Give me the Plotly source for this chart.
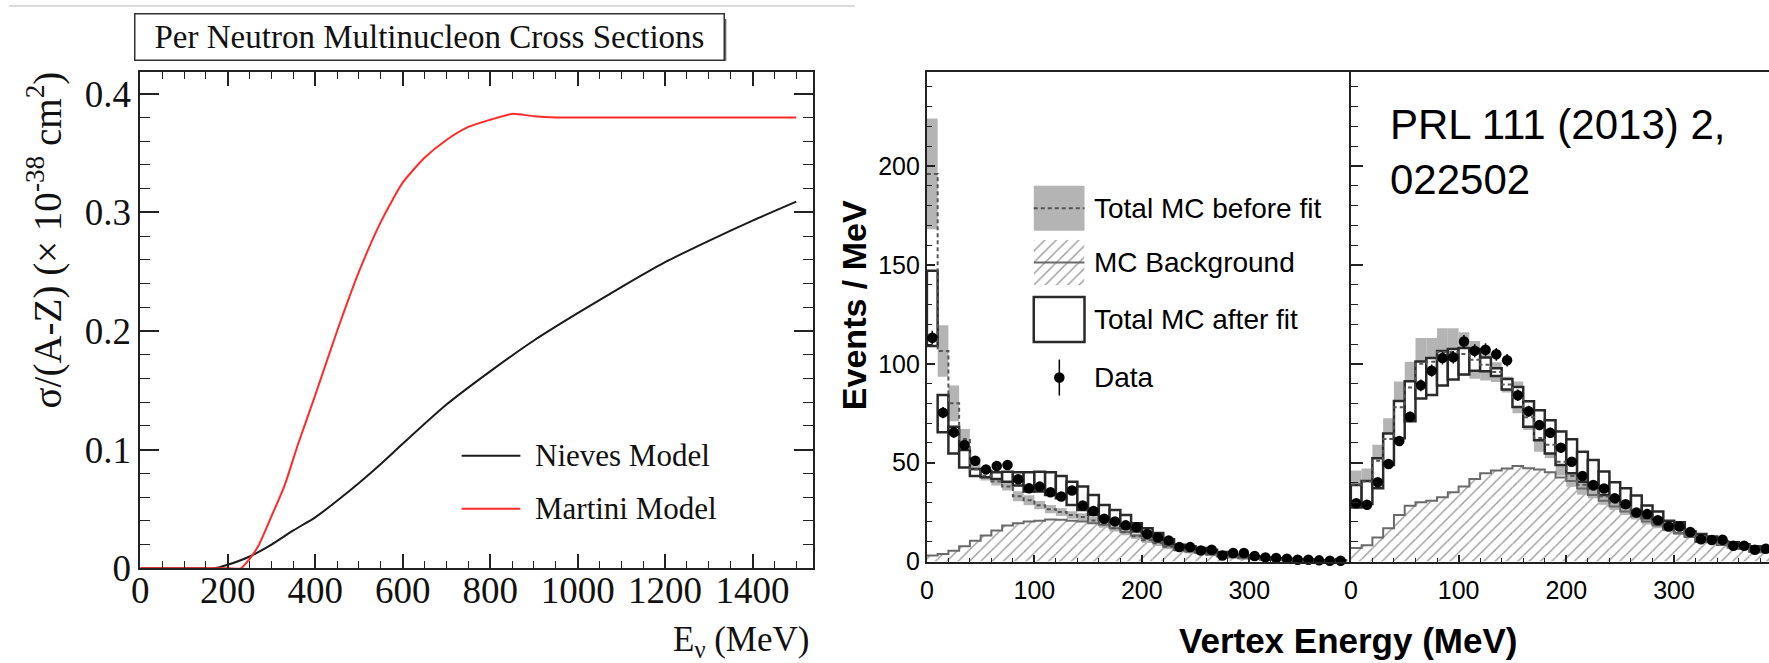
import plotly.graph_objects as go

W, H = 1769, 663          # picture size the chart is laid out in
PAGE_H = 685              # plot height handed to the browser (the photo is squeezed back to 663)

# ---------------- Left chart: per-neutron multinucleon cross sections ----------------
nieves_E = [0, 150, 170, 200, 250, 300, 350, 400, 450, 500, 550, 600, 700, 800, 900, 1000, 1100, 1200, 1300, 1400, 1500]
nieves_xs = [0, 0, 0, 0.003, 0.010, 0.020, 0.032, 0.043, 0.057, 0.072, 0.088, 0.105, 0.138, 0.166, 0.192, 0.215, 0.237, 0.258, 0.276, 0.293, 0.309]
martini_E = [0, 100, 200, 230, 250, 270, 300, 330, 360, 400, 450, 500, 550, 600, 650, 700, 750, 800, 850, 900, 950, 1000, 1100, 1200, 1300, 1400, 1500]
martini_xs = [0, 0, 0, 0, 0.008, 0.019, 0.044, 0.070, 0.104, 0.146, 0.200, 0.250, 0.292, 0.325, 0.346, 0.361, 0.372, 0.378, 0.383, 0.381, 0.380, 0.380, 0.380, 0.380, 0.380, 0.380, 0.380]

# ---------------- Right chart: vertex energy histograms ----------------
bin_lo = list(range(0, 390, 10))   # 10 MeV bins, 0-390 MeV
bin_w = 10

# left panel
data_L = [113.2, 75.3, 65.3, 58.9, 51.0, 46.6, 48.3, 48.8, 41.6, 37.1, 37.9, 35.0, 32.9, 35.9, 28.3, 25.6, 21.6, 20.3, 18.3, 17.3,
          13.9, 12.2, 10.7, 7.3, 7.3, 5.6, 6.0, 3.1, 4.3, 4.3, 2.8, 2.1, 1.8, 1.4, 0.9, 0.9, 0.6, 0.4, 0.4]
data_err_L = [3.5, 2.8, 2.6, 2.4, 2.3, 2.2, 2.2, 2.2, 2.0, 1.9, 1.9, 1.9, 1.8, 1.9, 1.7, 1.6, 1.5, 1.4, 1.4, 1.3,
              1.2, 1.1, 1.0, 0.9, 0.9, 0.8, 0.8, 0.6, 0.7, 0.7, 0.5, 0.5, 0.4, 0.4, 0.3, 0.3, 0.3, 0.2, 0.2]
after_lo_L = [109.0, 65.4, 54.7, 47.5, 43.3, 42.6, 41.8, 40.4, 38.4, 35.4, 35.4, 33.7, 32.0, 28.6, 26.1, 23.6, 21.1, 19.4, 16.9, 15.2,
              13.0, 11.0, 8.5, 6.0, 5.5, 4.8, 4.3, 3.1, 2.5, 2.0, 1.6, 1.2, 1.0, 0.8, 0.6, 0.5, 0.4, 0.3, 0.2]
after_hi_L = [147.0, 84.2, 68.2, 56.4, 46.8, 45.8, 45.1, 45.4, 45.1, 45.1, 45.4, 45.1, 43.3, 40.4, 37.9, 33.7, 28.6, 26.1, 23.6, 19.4,
              16.9, 14.4, 11.3, 8.5, 7.7, 6.8, 6.0, 4.8, 3.5, 3.0, 2.5, 2.0, 1.7, 1.4, 1.1, 0.9, 0.7, 0.6, 0.5]
before_L = [196.0, 106.5, 80.0, 62.0, 46.5, 43.5, 40.5, 38.0, 33.0, 31.0, 28.5, 26.5, 25.0, 23.5, 22.5, 20.8, 18.8, 16.8, 14.8, 12.8,
            10.8, 9.3, 7.5, 6.0, 5.1, 4.4, 3.7, 3.0, 2.5, 2.0, 1.6, 1.3, 1.0, 0.8, 0.7, 0.5, 0.4, 0.3, 0.3]
before_err_L = [28.0, 13.0, 9.0, 5.0, 3.3, 2.5, 2.0, 2.1, 2.5, 2.5, 2.1, 2.1, 2.0, 1.9, 1.9, 1.7, 1.7, 1.6, 1.5, 1.4,
                1.4, 1.4, 1.3, 1.0, 1.0, 0.8, 0.7, 0.6, 0.5, 0.5, 0.4, 0.3, 0.3, 0.3, 0.2, 0.2, 0.2, 0.2, 0.2]
bg_L = [3.1, 3.8, 5.5, 7.7, 10.5, 13.2, 15.7, 18.2, 19.4, 20.3, 20.6, 21.3, 21.1, 20.6, 20.3, 19.4, 18.6, 16.9, 14.9, 13.2,
        11.5, 9.7, 7.7, 6.0, 5.1, 4.3, 3.5, 2.6, 2.1, 1.6, 1.3, 1.0, 0.8, 0.6, 0.5, 0.4, 0.3, 0.2, 0.2]

# right panel
data_R = [29.5, 28.7, 40.1, 49.3, 60.9, 73.2, 89.1, 96.5, 102.9, 103.3, 111.3, 106.6, 107.1, 104.8, 101.8, 84.1, 76.0, 69.0, 65.1, 57.6,
          50.5, 43.3, 38.7, 36.9, 32.0, 29.0, 24.8, 24.0, 20.9, 17.7, 17.7, 14.9, 11.3, 10.9, 11.0, 8.0, 8.0, 6.0, 6.5]
data_err_R = [1.7, 1.7, 2.0, 2.2, 2.5, 2.7, 3.0, 3.1, 3.2, 3.2, 3.3, 3.3, 3.3, 3.2, 3.2, 2.9, 2.8, 2.6, 2.6, 2.4,
              2.2, 2.1, 2.0, 1.9, 1.8, 1.7, 1.6, 1.5, 1.4, 1.3, 1.3, 1.2, 1.1, 1.0, 1.0, 0.9, 0.9, 0.8, 0.8]
after_lo_R = [27.3, 29.1, 37.1, 48.8, 62.3, 71.0, 82.5, 84.2, 89.0, 92.0, 94.6, 96.5, 96.2, 93.8, 87.0, 78.2, 68.2, 61.4, 54.7, 48.8,
              44.6, 40.4, 37.1, 33.7, 31.1, 27.8, 24.5, 21.9, 19.4, 16.9, 14.4, 12.7, 10.2, 10.2, 8.5, 7.2, 6.5, 5.1, 4.8]
after_hi_R = [38.7, 40.7, 52.2, 64.8, 81.2, 91.2, 101.1, 102.9, 106.5, 107.5, 108.0, 107.5, 103.2, 97.8, 92.3, 88.3, 81.1, 76.5, 71.5, 65.8,
              61.9, 55.5, 51.3, 45.5, 40.1, 37.1, 33.4, 28.3, 25.3, 20.6, 19.9, 15.2, 13.9, 12.7, 10.2, 9.8, 8.8, 7.7, 7.2]
before_R = [39.0, 40.5, 51.0, 62.0, 78.0, 88.0, 100.0, 101.0, 106.0, 106.0, 105.0, 102.0, 99.5, 95.8, 89.5, 83.0, 73.0, 62.5, 59.0, 50.5,
            43.3, 38.8, 36.2, 32.9, 29.9, 27.4, 24.5, 22.0, 19.9, 17.7, 16.0, 14.3, 12.7, 11.3, 10.1, 9.0, 8.0, 7.1, 6.3]
before_err_R = [7.0, 6.5, 8.0, 10.5, 13.0, 13.0, 13.0, 12.0, 12.0, 12.0, 11.0, 9.5, 8.0, 5.0, 4.0, 8.0, 6.5, 7.0, 6.7, 7.0,
                5.5, 5.0, 4.2, 4.2, 3.8, 3.8, 3.3, 3.3, 3.0, 2.5, 2.5, 1.7, 1.7, 1.5, 1.4, 1.3, 1.2, 1.1, 1.2]
bg_R = [6.8, 8.2, 12.2, 16.9, 23.6, 28.2, 30.0, 30.8, 32.5, 35.0, 37.9, 41.7, 44.6, 46.0, 47.1, 48.3, 47.2, 46.5, 45.2, 42.5,
        40.7, 37.0, 33.7, 30.7, 27.8, 25.3, 22.8, 20.2, 18.2, 16.1, 14.4, 12.7, 11.0, 9.7, 8.5, 7.3, 6.3, 5.5, 4.8]

legend_R = ["Total MC before fit", "MC Background", "Total MC after fit", "Data"]
legend_L = ["Nieves Model", "Martini Model"]

# ---------------- helpers ----------------
def px(x):
    return x / W

def py(y):
    return 1 - y / H

centers = [b + bin_w / 2 for b in bin_lo]
edges = bin_lo + [bin_lo[-1] + bin_w]

SERIF = "Liberation Serif, Times New Roman, serif"
SANS = "Liberation Sans, Arial, Helvetica, sans-serif"
GRAY_BAND = "#b4b4b4"
BOX_LINE = "#2a2a2a"
BG_LINE = "#6a6a6a"
HATCH = dict(shape="/", fgcolor="#333333", bgcolor="white", size=8, solidity=0.17)

fig = go.Figure()

# ---------- left chart curves ----------
fig.add_trace(go.Scatter(x=nieves_E, y=nieves_xs, mode="lines", line=dict(color="#1a1a1a", width=2, shape="spline", smoothing=0.6),
                         xaxis="x", yaxis="y", showlegend=False))
fig.add_trace(go.Scatter(x=martini_E, y=martini_xs, mode="lines", line=dict(color="#ff2a2a", width=2, shape="spline", smoothing=0.6),
                         xaxis="x", yaxis="y", showlegend=False))

# ---------- histogram panels ----------
def add_panel(xa, ya, data, derr, alo, ahi, bmid, berr, bg):
    fig.add_trace(go.Bar(x=centers, y=bg, width=bin_w, xaxis=xa, yaxis=ya, showlegend=False,
                         marker=dict(color="white", line=dict(width=0), pattern=HATCH)))
    blo = [m - e for m, e in zip(bmid, berr)]
    bspan = [2 * e for e in berr]
    fig.add_trace(go.Bar(x=centers, y=bspan, base=blo, width=bin_w, xaxis=xa, yaxis=ya, showlegend=False,
                         marker=dict(color=GRAY_BAND, line=dict(width=0))))
    aspan = [h - l for l, h in zip(alo, ahi)]
    fig.add_trace(go.Bar(x=centers, y=aspan, base=alo, width=bin_w, xaxis=xa, yaxis=ya, showlegend=False,
                         marker=dict(color="white", line=dict(color=BOX_LINE, width=2.5))))
    fig.add_trace(go.Scatter(x=edges, y=bg + [bg[-1]], mode="lines", xaxis=xa, yaxis=ya, showlegend=False,
                             line=dict(shape="hv", color=BG_LINE, width=2)))
    fig.add_trace(go.Scatter(x=edges, y=bmid + [bmid[-1]], mode="lines", xaxis=xa, yaxis=ya, showlegend=False,
                             line=dict(shape="hv", color="#555555", width=2, dash="4px,3px")))
    fig.add_trace(go.Scatter(x=centers, y=data, mode="markers", xaxis=xa, yaxis=ya, showlegend=False, cliponaxis=False,
                             marker=dict(size=10.5, color="black"),
                             error_y=dict(type="data", array=derr, thickness=1.5, width=0, color="black")))

add_panel("x2", "y2", data_L, data_err_L, after_lo_L, after_hi_L, before_L, before_err_L, bg_L)
add_panel("x3", "y3", data_R, data_err_R, after_lo_R, after_hi_R, before_R, before_err_R, bg_R)

rows_R = [208, 262, 319, 377]
rows_L = [455, 508]
GH = 22.5  # half height of legend boxes
# hatched legend glyph (its own tiny hidden axis so the pattern matches)
fig.add_trace(go.Bar(x=[0], y=[1], width=1, xaxis="x4", yaxis="y4", showlegend=False,
                     marker=dict(color="white", line=dict(width=0), pattern=HATCH)))

# ---------------- axes ----------------
ax_line = dict(showline=True, linecolor="#222222", linewidth=2, showgrid=False, zeroline=False)

L_x0, L_x1, L_y0, L_y1 = 132, 808, 567.5, 72
R_x0, R_mid, R_y0, R_y1 = 922.6, 1348.7, 560.7, 72

layout = dict(
    width=W, height=PAGE_H, margin=dict(l=0, r=0, t=0, b=0),
    paper_bgcolor="white", plot_bgcolor="rgba(0,0,0,0)",
    barmode="overlay", showlegend=False,
    xaxis=dict(domain=[px(L_x0), px(L_x1)], anchor="y", range=[0, 1538], **ax_line,
               mirror="allticks", ticks="inside", ticklen=14, tickwidth=1.5, tickcolor="#222222",
               tick0=0, dtick=200, minor=dict(dtick=50, ticklen=7, tickwidth=1.2, tickcolor="#222222", ticks="inside"),
               ticklabelstandoff=-12,
               tickfont=dict(family=SERIF, size=37, color="#111111")),
    yaxis=dict(domain=[py(L_y0), py(L_y1)], anchor="x", range=[0, 0.4182], **ax_line,
               mirror="allticks", ticks="inside", ticklen=19, tickwidth=1.5, tickcolor="#222222",
               tick0=0, dtick=0.1, minor=dict(dtick=0.02, ticklen=10, tickwidth=1.2, tickcolor="#222222", ticks="inside"),
               tickfont=dict(family=SERIF, size=37, color="#111111")),
    xaxis2=dict(domain=[px(R_x0), px(R_mid)], anchor="y2", range=[0, 394.5], **ax_line,
                mirror=True, ticks="inside", ticklen=7, tickwidth=1.5, tickcolor="#222222",
                tick0=0, dtick=100, minor=dict(dtick=20, ticklen=3.5, tickwidth=1.2, tickcolor="#222222", ticks="inside"),
                ticklabelstandoff=5,
                tickfont=dict(family=SANS, size=25, color="black")),
    yaxis2=dict(domain=[py(R_y0), py(R_y1)], anchor="x2", range=[0, 247.5], **ax_line,
                ticks="inside", ticklen=8, tickwidth=1.5, tickcolor="#222222",
                tick0=0, dtick=50, minor=dict(dtick=10, ticklen=5, tickwidth=1.2, tickcolor="#222222", ticks="inside"),
                tickfont=dict(family=SANS, size=25, color="black")),
    xaxis3=dict(domain=[px(R_mid), 1.0], anchor="y3", range=[0, 388.1], **ax_line,
                mirror=True, ticks="inside", ticklen=7, tickwidth=1.5, tickcolor="#222222",
                tick0=0, dtick=100, minor=dict(dtick=20, ticklen=3.5, tickwidth=1.2, tickcolor="#222222", ticks="inside"),
                ticklabelstandoff=5,
                tickfont=dict(family=SANS, size=25, color="black")),
    yaxis3=dict(domain=[py(R_y0), py(R_y1)], anchor="x3", range=[0, 247.5], **ax_line,
                ticks="inside", ticklen=12, tickwidth=1.5, tickcolor="#222222", showticklabels=False,
                tick0=0, dtick=50, minor=dict(dtick=10, ticklen=7, tickwidth=1.2, tickcolor="#222222", ticks="inside")),
    xaxis4=dict(domain=[px(1030), px(1081)], anchor="y4", range=[-0.5, 0.5], visible=False),
    yaxis4=dict(domain=[py(rows_R[1] + GH), py(rows_R[1] - GH)], anchor="x4", range=[0, 1], visible=False),
)
fig.update_layout(**layout)

# ---------------- shapes (frames, legend glyphs) ----------------
TX = 423  # title box centre
shapes = []
shapes.append(dict(type="line", xref="paper", yref="paper", x0=0, x1=px(850), y0=py(6), y1=py(6),
                   line=dict(color="#cfcfcf", width=1.5)))
# title box shadow
shapes.append(dict(type="rect", xref="paper", yref="paper", x0=px(TX - 294 + 3), x1=px(TX + 294 + 4), y0=py(61), y1=py(19),
                   fillcolor="#666666", line=dict(width=0)))
# left legend lines
for yy, col in zip(rows_L, ["#1a1a1a", "#ff2a2a"]):
    shapes.append(dict(type="line", xref="paper", yref="paper", x0=px(455), x1=px(514), y0=py(yy), y1=py(yy),
                       line=dict(color=col, width=2)))
# right legend glyphs
shapes.append(dict(type="rect", xref="paper", yref="paper", x0=px(1030), x1=px(1081), y0=py(rows_R[0] + GH), y1=py(rows_R[0] - GH),
                   fillcolor=GRAY_BAND, line=dict(width=0)))
shapes.append(dict(type="line", xref="paper", yref="paper", x0=px(1030), x1=px(1081), y0=py(rows_R[0]), y1=py(rows_R[0]),
                   line=dict(color="#555555", width=2, dash="4px,3px")))
shapes.append(dict(type="line", xref="paper", yref="paper", x0=px(1030), x1=px(1081), y0=py(rows_R[1]), y1=py(rows_R[1]),
                   line=dict(color=BG_LINE, width=2)))
shapes.append(dict(type="rect", xref="paper", yref="paper", x0=px(1030), x1=px(1081), y0=py(rows_R[2] + GH), y1=py(rows_R[2] - GH),
                   fillcolor="white", line=dict(color=BOX_LINE, width=2.5)))
shapes.append(dict(type="line", xref="paper", yref="paper", x0=px(1055.7), x1=px(1055.7), y0=py(rows_R[3] + 18), y1=py(rows_R[3] - 18),
                   line=dict(color="black", width=1.5)))
shapes.append(dict(type="circle", xref="paper", yref="paper", x0=px(1050.4), x1=px(1061.0), y0=py(rows_R[3] + 5.3), y1=py(rows_R[3] - 5.3),
                   fillcolor="black", line=dict(color="black", width=0)))
fig.update_layout(shapes=shapes)

# ---------------- text ----------------
ann = []
ann.append(dict(text="Per Neutron Multinucleon Cross Sections", xref="paper", yref="paper",
                x=px(TX), y=py(37), xanchor="center", yanchor="middle", showarrow=False,
                width=588, height=45, borderpad=0, bgcolor="white", bordercolor="#333333", borderwidth=1.5,
                font=dict(family=SERIF, size=33, color="#111111")))
ann.append(dict(text="σ/(A-Z) (× 10<sup>-38</sup> cm<sup>2</sup>)", xref="paper", yref="paper",
                x=px(36), y=py(69), xanchor="center", yanchor="top", textangle=-90, showarrow=False,
                font=dict(family=SERIF, size=39, color="#111111")))
ann.append(dict(text="E<sub>ν</sub> (MeV)", xref="paper", yref="paper",
                x=px(806), y=py(641), xanchor="right", yanchor="middle", showarrow=False,
                font=dict(family=SERIF, size=35, color="#111111")))
for name, yy in zip(legend_L, rows_L):
    ann.append(dict(text=name, xref="paper", yref="paper", x=px(527), y=py(yy), xanchor="left", yanchor="middle",
                    showarrow=False, font=dict(family=SERIF, size=31, color="#111111")))

ann.append(dict(text="<b>Vertex Energy (MeV)</b>", xref="paper", yref="paper",
                x=px(1346), y=py(640), xanchor="center", yanchor="middle", showarrow=False,
                font=dict(family=SANS, size=35, color="black")))
ann.append(dict(text="<b>Events / MeV</b>", xref="paper", yref="paper",
                x=px(850), y=py(305), xanchor="center", yanchor="middle", textangle=-90, showarrow=False,
                font=dict(family=SANS, size=34, color="black")))
ann.append(dict(text="PRL 111 (2013) 2,<br>022502", xref="paper", yref="paper",
                x=px(1386), y=py(99), xanchor="left", yanchor="top", align="left", showarrow=False,
                font=dict(family=SANS, size=42, color="black")))
for name, yy in zip(legend_R, rows_R):
    ann.append(dict(text=name, xref="paper", yref="paper", x=px(1089), y=py(yy), xanchor="left", yanchor="middle",
                    showarrow=False, font=dict(family=SANS, size=28, color="black")))
fig.update_layout(annotations=ann)

fig.write_html("out.html")
